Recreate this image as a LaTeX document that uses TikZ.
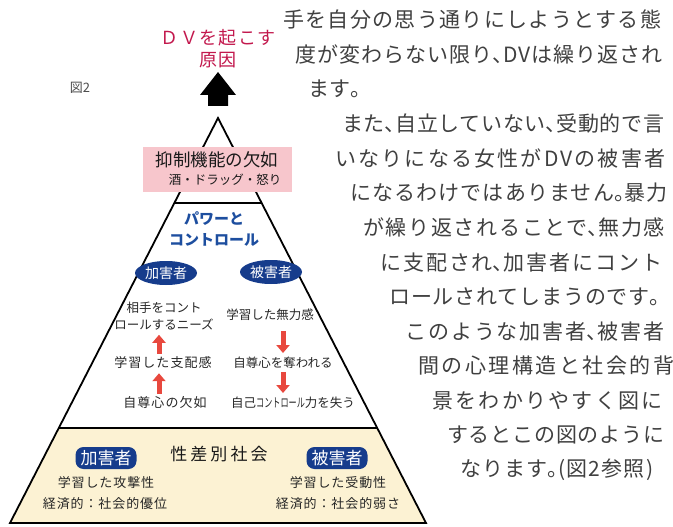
\documentclass[tikz,border=0pt]{standalone}
\usepackage{fontspec}
\setmainfont{Noto Sans CJK JP}
\usetikzlibrary{shapes.geometric,arrows.meta,calc}

\definecolor{causered}{HTML}{C2184D}
\definecolor{pinkfill}{HTML}{F7C6CC}
\definecolor{creamfill}{HTML}{FCF2D3}
\definecolor{navy}{HTML}{163C8C}
\definecolor{powerblue}{HTML}{1D4E9F}
\definecolor{arrowred}{HTML}{E8483E}
\definecolor{bodygray}{HTML}{404040}

% half width punctuation
\newcommand\hk[1]{{\addfontfeatures{RawFeature=+halt}#1}}

\begin{document}
\begin{tikzpicture}
    [ x=1pt, y=-1pt
    , pyline/.style={line width=1.8pt, line join=miter}
    , celltext/.style={font=\fontsize{12.5}{17}\selectfont, text=black!85, inner sep=1pt}
    , cellspaced/.style={font=\fontsize{13}{17}\selectfont\addfontfeatures{LetterSpace=8}, text=black!85, inner sep=1pt}
    , bandtext/.style={font=\fontsize{13}{17}\selectfont\addfontfeatures{LetterSpace=7}, text=black!85, inner sep=1pt}
    , ovalbadge/.style={ellipse, fill=navy, text=white, minimum width=62pt, minimum height=24pt, inner sep=0pt, font=\fontsize{14}{14}\selectfont}
    , boxbadge/.style={rectangle, rounded corners=8pt, fill=navy, text=white, minimum width=61pt, minimum height=22pt, inner sep=0pt, font=\fontsize{17}{17}\selectfont}
    , redarr/.style={draw=arrowred, line width=5pt, -{Triangle[width=13pt,length=8pt]}, shorten <=2pt, shorten >=3pt}
    , body/.style={font=\fontsize{21}{21}\selectfont\addfontfeatures{LetterSpace=#1}, text=bodygray, inner sep=0pt, anchor=west}
    , body/.default=0
    ]
\useasboundingbox (0,0) rectangle (673,527);

% title and figure number
\node[font=\fontsize{18}{22}\selectfont\addfontfeatures{LetterSpace=8}, text=causered, align=center] (cause) at (218,49) {ＤＶを起こす\\原因};
\node[font=\fontsize{13}{13}\selectfont, text=black!70] (figlabel) at (80,88) {図2};
\fill (218,72) -- (236,95) -- (228,95) -- (228,106) -- (208,106) -- (208,95) -- (200,95) -- cycle;

% pyramid
\coordinate (apex) at (218,118);
\coordinate (bl) at (10,523);
\coordinate (br) at (426,523);
\coordinate (ml) at ($(apex)!0.21!(bl)$);
\coordinate (mr) at ($(apex)!0.21!(br)$);
\coordinate (sl) at ($(apex)!0.765!(bl)$);
\coordinate (sr) at ($(apex)!0.765!(br)$);
\fill[creamfill] (sl) -- (sr) -- (br) -- (bl) -- cycle;
\draw[pyline] (apex) -- (bl) -- (br) -- cycle;
\draw[pyline] (ml) -- (mr);
\draw[pyline] (sl) -- (sr);
\draw[pyline, line width=2.6pt] (bl) -- (br);

% top box
\node[fill=pinkfill, minimum width=149pt, minimum height=45pt, inner sep=0pt] (inhib) at (217.5,169.5) {};
\node[font=\fontsize{17.5}{17.5}\selectfont, text=black!90] (inhibtitle) at (217,160) {抑制機能の欠如};
\node[font=\fontsize{12.5}{12.5}\selectfont, text=black!90] (inhibsub) at (225,180) {酒・ドラッグ・怒り};

% power and control
\node[font=\fontsize{15}{21}\selectfont\bfseries, text=powerblue, align=center] (power) at (214,229.5) {パワーと\\コントロール};
\node[ovalbadge] (aggoval) at (166,273) {加害者};
\node[ovalbadge] (vicoval) at (271,272) {被害者};

\coordinate (lcol) at (159,0);
\coordinate (rcol) at (283,0);
\node[celltext, align=center] (needs) at (164,316.5) {相手をコント\\ロールするニーズ};
\node[cellspaced] (dominance) at (163,363) {学習した支配感};
\node[cellspaced] (lowesteem) at (165,403) {自尊心の欠如};
\node[celltext] (helpless) at (270,315) {学習した無力感};
\node[celltext] (robbed) at (283,363) {自尊心を奪われる};
\node[celltext] (losectrl) at (293,403) {自己\scalebox{0.65}[1]{コントロール}力を失う};

\draw[redarr] (dominance.north -| lcol) -- (needs.south -| lcol);
\draw[redarr] (lowesteem.north -| lcol) -- (dominance.south -| lcol);
\draw[redarr, shorten <=9pt] (helpless.south -| rcol) -- (robbed.north -| rcol);
\draw[redarr] (robbed.south -| rcol) -- (losectrl.north -| rcol);

% sexist society
\node[font=\fontsize{17}{17}\selectfont\addfontfeatures{LetterSpace=18}, text=black!90] (society) at (219,454) {性差別社会};
\node[boxbadge] (aggbox) at (106,458) {加害者};
\node[boxbadge] (vicbox) at (337,458) {被害者};
\node[bandtext] (aggtrait) at (106,483) {学習した攻撃性};
\node[bandtext] (aggecon) at (105,504) {経済的：社会的優位};
\node[bandtext] (victrait) at (338,483) {学習した受動性};
\node[bandtext] (vicecon) at (338,504) {経済的：社会的弱さ};

% running text
\node[body=6.4] (line1) at (283,20) {手を自分の思う通りにしようとする態};
\node[body=5] (line2) at (295,54.6) {度が変わらない限り\hk{、}DVは繰り返され};
\node[body] (line3) at (308,89.2) {ます\hk{。}};
\node[body=3.3] (line4) at (342,123.8) {また\hk{、}自立していない\hk{、}受動的で言};
\node[body=10.5] (line5) at (335,158.4) {いなりになる女性がDVの被害者};
\node[body=5.4] (line6) at (350,193) {になるわけではありません\hk{。}暴力};
\node[body=8.1] (line7) at (363,227.6) {が繰り返されることで\hk{、}無力感};
\node[body=9.3] (line8) at (380,262.2) {に支配され\hk{、}加害者にコント};
\node[body=4] (line9) at (389,296.8) {ロールされてしまうのです\hk{。}};
\node[body=9.3] (line10) at (405,331.4) {このような加害者\hk{、}被害者};
\node[body=12] (line11) at (418,366) {間の心理構造と社会的背};
\node[body=10.9] (line12) at (432,400.6) {景をわかりやすく図に};
\node[body=3.8] (line13) at (447,435.2) {するとこの図のように};
\node[body=5.7] (line14) at (460,469.8) {なります\hk{。}(図2参照)};
\end{tikzpicture}
\end{document}
